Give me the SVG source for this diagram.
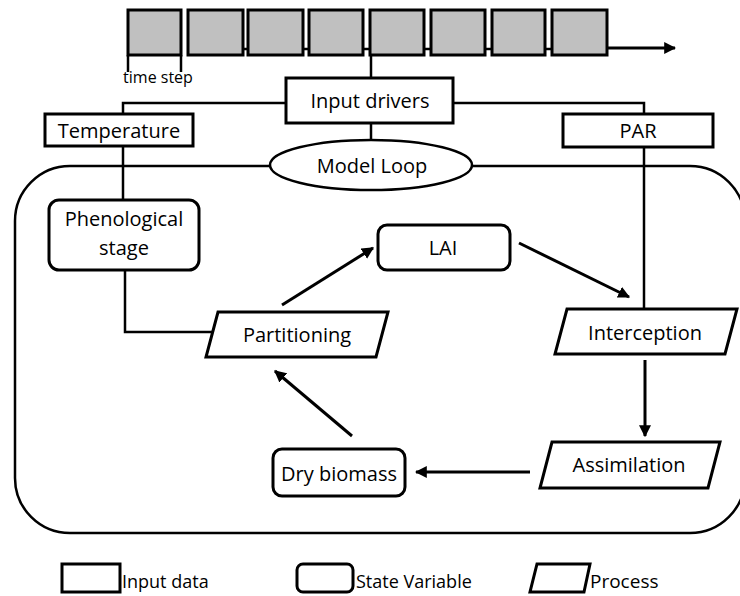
<svg xmlns="http://www.w3.org/2000/svg" width="740" height="596" viewBox="0 0 740 596">
<defs>
<style>
.t{font-family:"Open Sans","Liberation Sans",sans-serif;font-size:20px;fill:#000;text-anchor:middle}
.lg{font-family:"Open Sans","Liberation Sans",sans-serif;font-size:18px;fill:#000}
.box{fill:#fff;stroke:#000;stroke-width:3}
.ts{fill:#c0c0c0;stroke:#000;stroke-width:3}
.ln{fill:none;stroke:#000;stroke-width:2.5}
.ar{fill:none;stroke:#000;stroke-width:3;marker-end:url(#ah)}
</style>
<marker id="ah" viewBox="0 0 10 10" refX="9" refY="5" markerWidth="4" markerHeight="4" orient="auto">
<path d="M0,0 L10,5 L0,10 z" fill="#000"/>
</marker>
</defs>
<rect width="740" height="596" fill="#fff"/>

<g id="loop-frame">
<rect x="15" y="166" width="730" height="367" rx="55" ry="55" fill="none" stroke="#000" stroke-width="2.5"/>
</g>

<g id="connectors">
<line class="ln" x1="243" y1="49" x2="248" y2="49"/>
<line class="ln" x1="303" y1="49" x2="309" y2="49"/>
<line class="ln" x1="363" y1="49" x2="370" y2="49"/>
<line class="ln" x1="424" y1="49" x2="431" y2="49"/>
<line class="ln" x1="485" y1="49" x2="492" y2="49"/>
<line class="ln" x1="545" y1="49" x2="552" y2="49"/>
<line class="ar" x1="607" y1="48" x2="675" y2="48"/>
<polyline class="ln" points="128,55 128,72"/>
<polyline class="ln" points="181,55 181,72"/>
<line class="ln" x1="371" y1="55" x2="371" y2="78"/>
<polyline class="ln" points="286,103 123,103 123,114"/>
<polyline class="ln" points="453,103 644,103 644,114"/>
<line class="ln" x1="371" y1="123" x2="371" y2="141"/>
<line class="ln" x1="123" y1="146" x2="123" y2="200"/>
<line class="ln" x1="644" y1="147" x2="644" y2="309"/>
<polyline class="ln" points="125,270 125,332 212,332"/>
<line class="ar" x1="282" y1="305" x2="373" y2="248"/>
<line class="ar" x1="519" y1="243" x2="629" y2="297"/>
<line class="ar" x1="645" y1="360" x2="645" y2="436"/>
<line class="ar" x1="530" y1="472" x2="416" y2="472"/>
<line class="ar" x1="352" y1="436" x2="275" y2="371"/>
</g>

<g id="timeline">
<rect class="ts" x="128" y="10" width="53" height="45"/>
<rect class="ts" x="188" y="10" width="55" height="45"/>
<rect class="ts" x="248" y="10" width="55" height="45"/>
<rect class="ts" x="309" y="10" width="54" height="45"/>
<rect class="ts" x="370" y="10" width="54" height="45"/>
<rect class="ts" x="431" y="10" width="54" height="45"/>
<rect class="ts" x="492" y="10" width="53" height="45"/>
<rect class="ts" x="552" y="10" width="55" height="45"/>
<text x="158" y="83" class="t" style="font-size:16px">time step</text>
</g>

<g id="input-drivers">
<rect class="box" x="286" y="78" width="167" height="45"/>
<text x="370" y="108" class="t">Input drivers</text>
</g>

<g id="temperature">
<rect class="box" x="45" y="114" width="148" height="32"/>
<text x="119" y="138" class="t">Temperature</text>
</g>

<g id="par">
<rect class="box" x="563" y="114" width="150" height="33"/>
<text x="638" y="138" class="t">PAR</text>
</g>

<g id="model-loop">
<ellipse cx="371" cy="165" rx="101" ry="25" fill="#fff" stroke="#000" stroke-width="2.5"/>
<text x="372" y="173" class="t">Model Loop</text>
</g>

<g id="phenological-stage">
<rect class="box" x="49" y="200" width="150" height="70" rx="10" ry="10"/>
<text x="124" y="226" class="t">Phenological</text>
<text x="124" y="255" class="t">stage</text>
</g>

<g id="lai">
<rect class="box" x="378" y="225" width="132" height="45" rx="9" ry="9"/>
<text x="443" y="255" class="t">LAI</text>
</g>

<g id="partitioning">
<polygon class="box" points="218,312 388,312 376,357 206,357"/>
<text x="297" y="342" class="t">Partitioning</text>
</g>

<g id="interception">
<polygon class="box" points="567,309 737,309 725,354 555,354"/>
<text x="645" y="340" class="t">Interception</text>
</g>

<g id="assimilation">
<polygon class="box" points="552,442 720,442 708,488 540,488"/>
<text x="629" y="472" class="t">Assimilation</text>
</g>

<g id="dry-biomass">
<rect class="box" x="273" y="449" width="132" height="47" rx="9" ry="9"/>
<text x="339" y="481" class="t">Dry biomass</text>
</g>

<g id="legend">
<rect class="box" x="62" y="564" width="58" height="28"/>
<text x="122" y="588" class="lg">Input data</text>
<rect class="box" x="297" y="564" width="56" height="28" rx="6" ry="6"/>
<text x="356" y="588" class="lg">State Variable</text>
<polygon class="box" points="537,564 590,564 584,592 530,592"/>
<text x="590" y="588" class="lg" style="font-size:19px">Process</text>
</g>
</svg>
